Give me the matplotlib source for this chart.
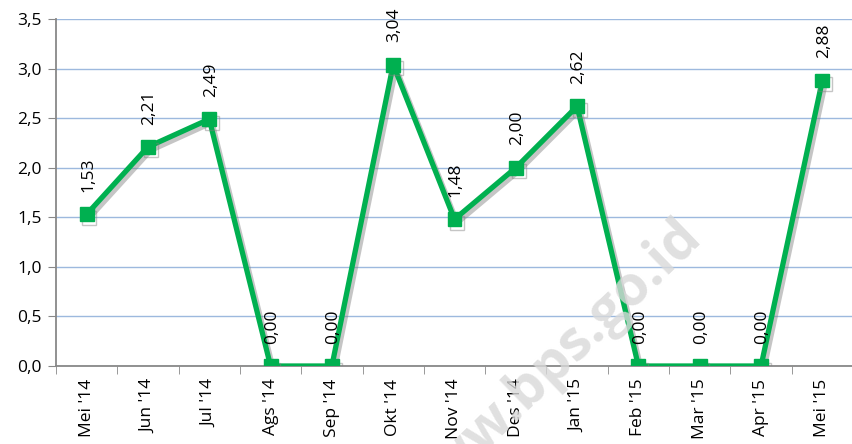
import matplotlib
matplotlib.use("Agg")
import matplotlib.pyplot as plt
import matplotlib.patheffects as pe
import numpy as np

categories = ["Mei '14", "Jun '14", "Jul '14", "Ags '14", "Sep '14", "Okt '14", "Nov '14",
              "Des '14", "Jan '15", "Feb '15", "Mar '15", "Apr '15", "Mei '15"]
values = [1.53, 2.21, 2.49, 0.00, 0.00, 3.04, 1.48, 2.00, 2.62, 0.00, 0.00, 0.00, 2.88]
y_ticks = [0.0, 0.5, 1.0, 1.5, 2.0, 2.5, 3.0, 3.5]

plt.rcParams['font.family'] = ['Open Sans', 'DejaVu Sans']

W, H = 853, 444
fig = plt.figure(figsize=(W/100, H/100), dpi=100)
left_px, bottom_px, top_px = 56, 366, 19
ax = fig.add_axes([left_px/W, 1-bottom_px/H, (W-left_px)/W, (bottom_px-top_px)/H])

x = np.arange(len(categories))
green = '#00B050'
ax.plot(x, values, color=green, lw=3.8, marker='s', markersize=10, zorder=3,
        path_effects=[pe.SimpleLineShadow(offset=(2, -2.5), shadow_color='gray', alpha=0.45),
                      pe.Normal()])

for xi, v in zip(x, values):
    ax.annotate(f"{v:.2f}".replace('.', ','), (xi, v), xytext=(1, 16), textcoords='offset points',
                rotation=90, ha='center', va='bottom', fontsize=12.5, color='black', zorder=4)

ax.set_ylim(0, 3.5)
ax.set_xlim(-0.5, -0.5 + (W - left_px) / 61.6)
ax.set_yticks(y_ticks)
ax.set_yticklabels([f"{t:.1f}".replace('.', ',') for t in y_ticks], fontsize=12.5)
ax.set_xticks(x)
ax.set_xticklabels(categories, rotation=90, fontsize=12.5)
ax.set_xticks(np.arange(len(categories) + 1) - 0.5, minor=True)
ax.tick_params(axis='x', which='major', length=0, pad=9)
ax.tick_params(axis='x', which='minor', length=6, color='#888888', direction='out')
ax.tick_params(axis='y', length=6, color='#888888', direction='out', pad=4)

ax.grid(axis='y', color='#9DB9DE', lw=1)
ax.set_axisbelow(True)
for s in ['top', 'right']:
    ax.spines[s].set_visible(False)
for s in ['left', 'bottom']:
    ax.spines[s].set_color('#888888')
    ax.spines[s].set_linewidth(1.3)

fig.text(703/W, 1-238/H, "http://www.bps.go.id", rotation=44, rotation_mode='anchor',
         ha='right', va='baseline', fontsize=40, fontweight='bold', color='#D9D9D9',
         alpha=0.8, zorder=0)

fig.savefig("out.png", dpi=100)
